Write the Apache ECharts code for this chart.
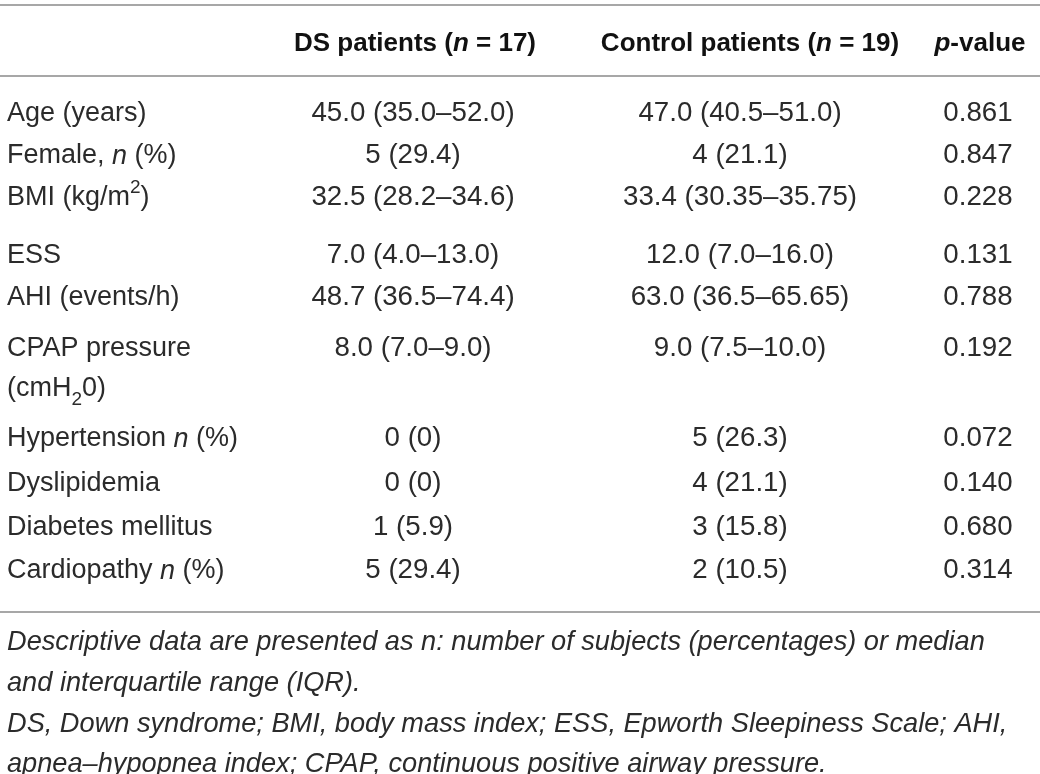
<!DOCTYPE html>
<html>
<head>
<meta charset="utf-8">
<script src="https://cdn.jsdelivr.net/npm/echarts@6/dist/echarts.min.js"></script>
<style>
    html, body { margin: 0; padding: 0; background: #fff; }
    #main { width: 1040px; height: 774px; }
</style>
</head>
<body>
<div id="main"></div>
<script>
    // table content
    var headers = ['DS patients ({bi|n} = 17)', 'Control patients ({bi|n} = 19)', '{bi|p}-value'];
    var rowLabels = [
        'Age (years)',
        'Female, {i|n} (%)',
        'BMI (kg/m{sup|2})',
        'ESS',
        'AHI (events/h)',
        'CPAP pressure\n(cmH{sub|2}0)',
        'Hypertension {i|n} (%)',
        'Dyslipidemia',
        'Diabetes mellitus',
        'Cardiopathy {i|n} (%)'
    ];
    var dsValues = ['45.0 (35.0–52.0)', '5 (29.4)', '32.5 (28.2–34.6)', '7.0 (4.0–13.0)', '48.7 (36.5–74.4)',
        '8.0 (7.0–9.0)', '0 (0)', '0 (0)', '1 (5.9)', '5 (29.4)'];
    var controlValues = ['47.0 (40.5–51.0)', '4 (21.1)', '33.4 (30.35–35.75)', '12.0 (7.0–16.0)', '63.0 (36.5–65.65)',
        '9.0 (7.5–10.0)', '5 (26.3)', '4 (21.1)', '3 (15.8)', '2 (10.5)'];
    var pValues = ['0.861', '0.847', '0.228', '0.131', '0.788', '0.192', '0.072', '0.140', '0.680', '0.314'];
    var footnotes = [
        'Descriptive data are presented as n: number of subjects (percentages) or median',
        'and interquartile range (IQR).',
        'DS, Down syndrome; BMI, body mass index; ESS, Epworth Sleepiness Scale; AHI,',
        'apnea–hypopnea index; CPAP, continuous positive airway pressure.'
    ];

    // layout
    var FONT = '"Liberation Sans", Arial, sans-serif';
    var fs = 27;      // body
    var hfs = 26;     // header
    var colX = [413, 740, 978];
    var headX = [415, 750, 980];
    var rowY = [113, 155, 197, 255, 297, 348, 438, 483, 527, 570];
    var footY = [642, 683, 724, 764];
    var txtColor = '#2b2b2b';

    var rich = {
        i: { fontFamily: FONT, fontSize: fs, fontStyle: 'italic', fill: txtColor },
        bi: { fontFamily: FONT, fontSize: hfs, fontStyle: 'italic', fontWeight: 'bold', fill: '#111' },
        sup: { fontFamily: FONT, fontSize: 19, fill: txtColor, verticalAlign: 'top', lineHeight: 20 },
        sub: { fontFamily: FONT, fontSize: 19, fill: txtColor, verticalAlign: 'bottom', lineHeight: 20 }
    };

    var elements = [];
    function hline(y) {
        elements.push({
            type: 'line',
            shape: { x1: 0, y1: y, x2: 1040, y2: y },
            style: { stroke: '#8a8a8a', lineWidth: 1.5 }
        });
    }
    hline(5);
    hline(76);
    hline(612);

    headers.forEach(function (h, i) {
        elements.push({
            type: 'text', x: headX[i], y: 44,
            style: {
                text: h, rich: rich, fontFamily: FONT, fontSize: hfs, fontWeight: 'bold',
                fill: '#111', align: 'center', verticalAlign: 'middle'
            }
        });
    });

    rowLabels.forEach(function (lab, i) {
        var multi = lab.indexOf('\n') !== -1;
        elements.push({
            type: 'text', x: 7, y: multi ? rowY[i] - 19 : rowY[i] + 1,
            style: {
                text: lab, rich: rich, fontFamily: FONT, fontSize: fs, fill: txtColor,
                lineHeight: 40, align: 'left', verticalAlign: multi ? 'top' : 'middle'
            }
        });
        [dsValues[i], controlValues[i], pValues[i]].forEach(function (v, c) {
            elements.push({
                type: 'text', x: colX[c], y: rowY[i],
                style: {
                    text: v, fontFamily: FONT, fontSize: fs + 0.7, fill: txtColor,
                    align: 'center', verticalAlign: 'middle'
                }
            });
        });
    });

    footnotes.forEach(function (t, i) {
        elements.push({
            type: 'text', x: 7, y: footY[i],
            style: {
                text: t, fontFamily: FONT, fontSize: 27.2, fontStyle: 'italic', fill: txtColor,
                align: 'left', verticalAlign: 'middle'
            }
        });
    });

    var myChart = echarts.init(document.getElementById('main'));
    myChart.setOption({
        backgroundColor: '#fff',
        animation: false,
        graphic: { elements: elements }
    });
</script>
</body>
</html>
